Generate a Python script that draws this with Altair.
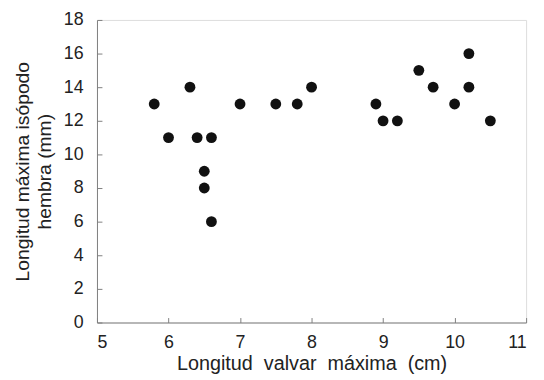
import altair as alt
import pandas as pd

valvar = [5.8, 6.0, 6.3, 6.4, 6.5, 6.5, 6.6, 6.6, 7.0, 7.5, 7.8, 8.0,
          8.9, 9.0, 9.2, 9.5, 9.7, 10.0, 10.2, 10.2, 10.5]
isopodo = [13, 11, 14, 11, 9, 8, 11, 6, 13, 13, 13, 14,
           13, 12, 12, 15, 14, 13, 16, 14, 12]
x_ticks = [5, 6, 7, 8, 9, 10, 11]
y_ticks = [0, 2, 4, 6, 8, 10, 12, 14, 16, 18]

S = "\u00a0 "
x_title = S.join(["Longitud", "valvar", "máxima", "(cm)"])
y_title = ["Longitud máxima isópodo", "hembra (mm)"]

df = pd.DataFrame({"x": valvar, "y": isopodo})

W, H = 434, 306
FONT = "Liberation Sans"
AX = "#7f7f7f"
TXT = "#222222"

xs = alt.Scale(domain=[5, 11], nice=False, zero=False)
ys = alt.Scale(domain=[0, 18], nice=False)

base = alt.Chart(df)

pts = base.mark_circle(size=120, color="#111111", opacity=1).encode(
    x=alt.X("x:Q", scale=xs,
            axis=alt.Axis(values=x_ticks, title=x_title,
                          ticks=False, grid=False, domainColor=AX, domainWidth=1,
                          labelFont=FONT, labelFontSize=18, labelColor=TXT, labelPadding=11,
                          titleFont=FONT, titleFontSize=20, titleFontWeight="normal",
                          titleColor=TXT, titlePadding=3)),
    y=alt.Y("y:Q", scale=ys,
            axis=alt.Axis(values=y_ticks, title=y_title,
                          ticks=False, grid=False, domainColor=AX, domainWidth=1,
                          labelFont=FONT, labelFontSize=18, labelColor=TXT, labelPadding=14,
                          titleFont=FONT, titleFontSize=19.5, titleFontWeight="normal",
                          titleColor=TXT, titlePadding=9, titleLineHeight=22)),
)

ticks = base.mark_circle(size=0, opacity=0).encode(
    x=alt.X("x:Q", scale=xs,
            axis=alt.Axis(orient="top", offset=-H, values=x_ticks, labels=False, domain=False,
                          grid=False, ticks=True, tickSize=5, tickColor=AX, title=None)),
    y=alt.Y("y:Q", scale=ys,
            axis=alt.Axis(orient="right", offset=-W, values=y_ticks, labels=False, domain=False,
                          grid=False, ticks=True, tickSize=5, tickColor=AX, title=None)),
)

chart = alt.layer(pts, ticks).resolve_axis(x="independent", y="independent").properties(
    width=W, height=H,
    autosize=alt.AutoSizeParams(type="none"),
    padding={"left": 90, "top": 10, "right": 10, "bottom": 50},
).configure_view(stroke=None).configure(background="white")

chart.save("out.html", embed_options={"renderer": "svg", "actions": False})
